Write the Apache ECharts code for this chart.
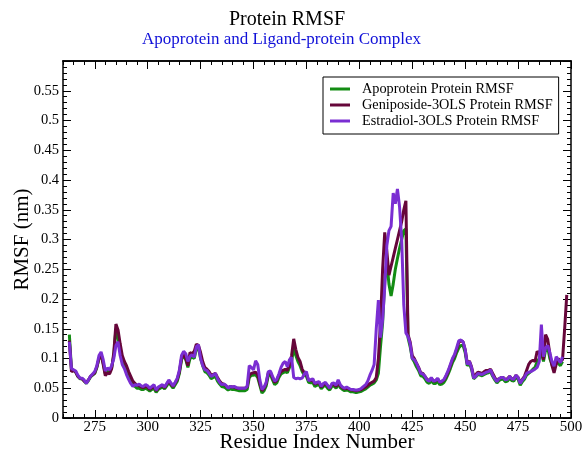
<!DOCTYPE html>
<html>
<head>
<meta charset="utf-8">
<title>Protein RMSF</title>
<script src="https://cdn.jsdelivr.net/npm/echarts@6/dist/echarts.min.js"></script>
<style>
  html, body { margin: 0; padding: 0; background: #fff; }
  #chart { width: 585px; height: 453px; }
</style>
</head>
<body>
<div id="chart"></div>
<script>
// Per-residue RMSF (nm), consecutive residues starting at the given first residue
const apoFirstResidue = 263;
const apoRmsf = [
  0.140,0.082,0.080,0.077,0.070,0.066,0.066,0.062,0.058,0.063,
  0.069,0.072,0.075,0.085,0.100,0.106,0.092,0.074,0.079,0.077,
  0.085,0.105,0.150,0.135,0.115,0.100,0.090,0.082,0.072,0.064,
  0.057,0.053,0.050,0.050,0.048,0.048,0.050,0.048,0.045,0.048,
  0.050,0.043,0.048,0.050,0.052,0.049,0.054,0.060,0.055,0.050,
  0.056,0.062,0.075,0.098,0.105,0.098,0.085,0.100,0.102,0.100,
  0.116,0.118,0.100,0.088,0.078,0.076,0.072,0.066,0.068,0.070,
  0.062,0.057,0.053,0.052,0.050,0.047,0.049,0.048,0.048,0.047,
  0.046,0.046,0.046,0.046,0.048,0.068,0.072,0.072,0.073,0.068,
  0.055,0.042,0.046,0.054,0.072,0.073,0.064,0.056,0.059,0.068,
  0.074,0.076,0.078,0.076,0.085,0.095,0.118,0.105,0.095,0.088,
  0.078,0.072,0.070,0.060,0.059,0.060,0.053,0.055,0.056,0.049,
  0.053,0.055,0.050,0.047,0.053,0.054,0.050,0.057,0.051,0.048,
  0.046,0.047,0.046,0.044,0.044,0.043,0.043,0.044,0.045,0.047,
  0.049,0.052,0.055,0.057,0.059,0.064,0.075,0.120,0.160,0.230,
  0.262,0.225,0.205,0.225,0.250,0.268,0.285,0.300,0.315,0.318,
  0.135,0.120,0.100,0.094,0.086,0.080,0.071,0.070,0.066,0.060,
  0.058,0.063,0.058,0.058,0.062,0.056,0.057,0.060,0.066,0.074,
  0.083,0.093,0.100,0.110,0.118,0.122,0.122,0.110,0.088,0.092,
  0.082,0.066,0.069,0.073,0.072,0.071,0.073,0.075,0.076,0.078,
  0.070,0.064,0.059,0.063,0.065,0.065,0.061,0.062,0.067,0.063,
  0.062,0.069,0.065,0.055,0.061,0.065,0.072,0.075,0.078,0.082,
  0.085,0.095,0.100,0.110,0.095,0.115,0.118,0.100,0.090,0.085,
  0.095,0.092,0.088,0.095
];

const genFirstResidue = 263;
const genRmsf = [
  0.130,0.078,0.080,0.077,0.070,0.067,0.066,0.062,0.060,0.064,
  0.070,0.073,0.076,0.086,0.100,0.108,0.090,0.071,0.076,0.074,
  0.083,0.110,0.158,0.148,0.125,0.105,0.095,0.088,0.078,0.070,
  0.062,0.058,0.055,0.054,0.052,0.051,0.053,0.052,0.048,0.051,
  0.053,0.046,0.050,0.053,0.055,0.051,0.057,0.062,0.057,0.053,
  0.059,0.065,0.078,0.100,0.108,0.100,0.088,0.110,0.108,0.112,
  0.124,0.122,0.110,0.095,0.085,0.082,0.078,0.072,0.073,0.075,
  0.068,0.062,0.058,0.057,0.054,0.051,0.053,0.052,0.052,0.050,
  0.050,0.050,0.050,0.050,0.052,0.072,0.075,0.076,0.077,0.072,
  0.058,0.046,0.050,0.058,0.076,0.077,0.068,0.060,0.063,0.072,
  0.078,0.080,0.082,0.080,0.090,0.105,0.133,0.115,0.102,0.095,
  0.082,0.076,0.074,0.064,0.063,0.064,0.057,0.059,0.060,0.052,
  0.056,0.058,0.054,0.050,0.056,0.057,0.053,0.060,0.054,0.051,
  0.049,0.050,0.049,0.047,0.047,0.046,0.046,0.047,0.048,0.050,
  0.052,0.055,0.058,0.060,0.062,0.068,0.100,0.160,0.250,0.312,
  0.280,0.240,0.255,0.270,0.285,0.300,0.315,0.330,0.350,0.365,
  0.140,0.128,0.105,0.100,0.092,0.085,0.076,0.075,0.070,0.065,
  0.063,0.067,0.062,0.062,0.066,0.060,0.061,0.064,0.070,0.078,
  0.088,0.098,0.105,0.115,0.127,0.130,0.128,0.115,0.092,0.096,
  0.086,0.070,0.073,0.077,0.076,0.075,0.078,0.080,0.080,0.082,
  0.075,0.068,0.063,0.066,0.068,0.068,0.065,0.066,0.070,0.066,
  0.066,0.072,0.068,0.060,0.065,0.070,0.080,0.090,0.095,0.097,
  0.095,0.112,0.108,0.118,0.098,0.140,0.132,0.108,0.088,0.076,
  0.090,0.100,0.095,0.098,0.150,0.207
];

const estFirstResidue = 263;
const estRmsf = [
  0.128,0.083,0.081,0.079,0.072,0.067,0.067,0.064,0.058,0.064,
  0.070,0.074,0.078,0.088,0.105,0.111,0.098,0.079,0.084,0.081,
  0.088,0.100,0.122,0.128,0.105,0.090,0.083,0.073,0.065,0.058,
  0.053,0.056,0.055,0.057,0.054,0.053,0.056,0.054,0.050,0.053,
  0.056,0.047,0.052,0.054,0.056,0.052,0.058,0.064,0.059,0.054,
  0.060,0.067,0.081,0.105,0.112,0.108,0.095,0.104,0.106,0.102,
  0.120,0.123,0.100,0.088,0.081,0.080,0.075,0.070,0.072,0.075,
  0.066,0.060,0.056,0.057,0.055,0.050,0.053,0.052,0.053,0.051,
  0.050,0.050,0.050,0.050,0.053,0.088,0.085,0.081,0.096,0.090,
  0.064,0.048,0.052,0.060,0.078,0.079,0.070,0.062,0.065,0.074,
  0.085,0.092,0.095,0.086,0.098,0.102,0.068,0.066,0.067,0.066,
  0.067,0.074,0.078,0.063,0.064,0.066,0.058,0.060,0.061,0.053,
  0.058,0.060,0.055,0.050,0.058,0.059,0.055,0.064,0.056,0.052,
  0.050,0.052,0.050,0.048,0.048,0.047,0.047,0.048,0.050,0.053,
  0.056,0.062,0.072,0.080,0.090,0.150,0.198,0.135,0.165,0.220,
  0.290,0.315,0.322,0.378,0.360,0.385,0.355,0.300,0.190,0.143,
  0.137,0.125,0.100,0.098,0.092,0.084,0.075,0.074,0.070,0.064,
  0.062,0.068,0.062,0.063,0.067,0.060,0.062,0.065,0.072,0.080,
  0.090,0.100,0.107,0.118,0.130,0.131,0.128,0.115,0.090,0.095,
  0.085,0.067,0.070,0.075,0.074,0.073,0.075,0.077,0.078,0.081,
  0.072,0.066,0.061,0.066,0.068,0.068,0.064,0.065,0.070,0.066,
  0.065,0.072,0.068,0.058,0.064,0.068,0.075,0.077,0.078,0.080,
  0.082,0.085,0.095,0.157,0.103,0.118,0.122,0.110,0.095,0.087,
  0.103,0.098,0.093,0.103
];

const seriesNames = [
  'Apoprotein Protein RMSF',
  'Geniposide-3OLS Protein RMSF',
  'Estradiol-3OLS Protein RMSF'
];
const seriesColors = ['#138c13', '#66063a', '#7a2ed2'];

const xMajorTicks = [275, 300, 325, 350, 375, 400, 425, 450, 475, 500];
const xMinorTicks = [
  260, 265, 270, 275, 280, 285, 290, 295, 300, 305, 310, 315, 320, 325, 330,
  335, 340, 345, 350, 355, 360, 365, 370, 375, 380, 385, 390, 395, 400, 405,
  410, 415, 420, 425, 430, 435, 440, 445, 450, 455, 460, 465, 470, 475, 480,
  485, 490, 495, 500
];

const titleText = 'Protein RMSF';
const subtitleText = 'Apoprotein and Ligand-protein Complex';
const xName = 'Residue Index Number';
const yName = 'RMSF (nm)';

function toPairs(first, values) {
  return values.map((v, i) => [first + i, v]);
}

const serif = '"Liberation Serif", "Times New Roman", Times, serif';
const chart = echarts.init(document.getElementById('chart'), null, { renderer: 'canvas' });

const X_MIN = 260, X_MAX = 500;

function xAxisDef(position, ticks, length, withLabels) {
  return {
    type: 'value',
    position: position,
    min: X_MIN,
    max: X_MAX,
    interval: 5,
    offset: 0,
    axisLine: { show: true, onZero: false, lineStyle: { color: '#000', width: 1.5 } },
    axisTick: { show: true, inside: true, length: length, customValues: ticks,
                lineStyle: { color: '#000', width: 1 } },
    axisLabel: withLabels ? {
      show: true, customValues: xMajorTicks, margin: 2,
      fontFamily: serif, fontSize: 15, color: '#000'
    } : { show: false },
    splitLine: { show: false },
    name: withLabels ? xName : '',
    nameLocation: 'middle',
    nameGap: 14,
    nameMoveOverlap: false,
    nameTextStyle: { fontFamily: serif, fontSize: 21, color: '#000', verticalAlign: 'top' }
  };
}

function yAxisDef(position, withLabels) {
  return {
    type: 'value',
    position: position,
    min: 0,
    max: 0.6,
    interval: 0.05,
    axisLine: { show: true, onZero: false, lineStyle: { color: '#000', width: 1.5 } },
    axisTick: { show: true, inside: true, length: 8, lineStyle: { color: '#000', width: 1 } },
    minorTick: { show: true, splitNumber: 5, length: 4, lineStyle: { color: '#000', width: 1 } },
    axisLabel: withLabels ? {
      show: true, margin: 4, fontFamily: serif, fontSize: 14.5, color: '#000',
      formatter: v => (v > 0.59 ? '' : String(+v.toFixed(2)))
    } : { show: false },
    splitLine: { show: false },
    minorSplitLine: { show: false },
    name: withLabels ? yName : '',
    nameLocation: 'middle',
    nameGap: 30,
    nameMoveOverlap: false,
    nameTextStyle: { fontFamily: serif, fontSize: 21, color: '#000' }
  };
}

const option = {
  animation: false,
  backgroundColor: '#fff',
  graphic: [
    { type: 'text', left: 229, top: 10,
      style: { text: titleText, fontFamily: serif, fontSize: 20, fill: '#000' } },
    { type: 'text', left: 142, top: 31,
      style: { text: subtitleText, fontFamily: serif, fontSize: 17, fill: '#1010d8' } }
  ],
  grid: { left: 63, right: 14, top: 61, bottom: 35, containLabel: false,
          outerBoundsMode: 'none' },
  legend: {
    orient: 'vertical',
    left: 323,
    top: 77,
    padding: [4, 6, 5, 7],
    itemGap: 0,
    itemWidth: 20,
    itemHeight: 3,
    icon: 'rect',
    borderColor: '#000',
    borderWidth: 1,
    backgroundColor: '#fff',
    data: seriesNames,
    textStyle: { fontFamily: serif, fontSize: 14.3, color: '#000', lineHeight: 16,
                 padding: [0, 0, 0, 7] }
  },
  xAxis: [
    xAxisDef('bottom', xMinorTicks, 4, true),
    xAxisDef('bottom', xMajorTicks, 8, false),
    xAxisDef('top', xMinorTicks, 4, false),
    xAxisDef('top', xMajorTicks, 8, false)
  ],
  yAxis: [
    yAxisDef('left', true),
    yAxisDef('right', false)
  ],
  series: [
    { name: seriesNames[0], data: toPairs(apoFirstResidue, apoRmsf), color: seriesColors[0] },
    { name: seriesNames[1], data: toPairs(genFirstResidue, genRmsf), color: seriesColors[1] },
    { name: seriesNames[2], data: toPairs(estFirstResidue, estRmsf), color: seriesColors[2] }
  ].map(s => ({
    type: 'line',
    name: s.name,
    data: s.data,
    xAxisIndex: 0,
    yAxisIndex: 0,
    showSymbol: false,
    symbol: 'none',
    itemStyle: { color: s.color },
    lineStyle: { color: s.color, width: 3 },
    emphasis: { disabled: true }
  }))
};

chart.setOption(option);
</script>
</body>
</html>
